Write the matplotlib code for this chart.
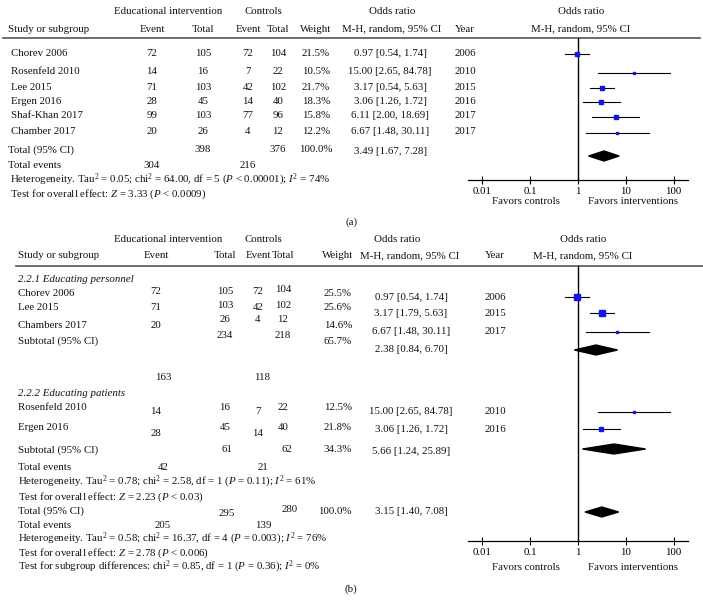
import numpy as np
import matplotlib
matplotlib.use('Agg')
import matplotlib.pyplot as plt
from matplotlib.patches import Polygon

plt.rcParams['font.family'] = ['Liberation Serif', 'DejaVu Serif']
plt.rcParams['mathtext.fontset'] = 'custom'
plt.rcParams['mathtext.rm'] = 'Liberation Serif'
plt.rcParams['mathtext.it'] = 'Liberation Serif:italic'
FS = 7.8

# ---- panel (a) data ----
studies_a = ['Chorev 2006', 'Rosenfeld 2010', 'Lee 2015', 'Ergen 2016', 'Shaf-Khan 2017', 'Chamber 2017']
ev_int_a = [72, 14, 71, 28, 99, 20]
tot_int_a = [105, 16, 103, 45, 103, 26]
ev_ctl_a = [72, 7, 42, 14, 77, 4]
tot_ctl_a = [104, 22, 102, 40, 96, 12]
weight_a = [21.5, 10.5, 21.7, 18.3, 15.8, 12.2]
or_a = [0.97, 15.00, 3.17, 3.06, 6.11, 6.67]
lo_a = [0.54, 2.65, 1.79, 1.26, 2.00, 1.48]     # CI as drawn
hi_a = [1.74, 84.78, 5.63, 7.42, 18.69, 30.11]
or_text_a = ['0.97 [0.54, 1.74]', '15.00 [2.65, 84.78]', '3.17 [0.54, 5.63]',
             '3.06 [1.26, 1.72]', '6.11 [2.00, 18.69]', '6.67 [1.48, 30.11]']
year_a = [2006, 2010, 2015, 2016, 2017, 2017]
total_a = (3.49, 1.67, 7.28)

# ---- panel (b) data ----
studies_b1 = ['Chorev 2006', 'Lee 2015', 'Chambers 2017']
ev_int_b1 = [72, 71, 20]
tot_int_b1 = [105, 103, 26]
ev_ctl_b1 = [72, 42, 4]
tot_ctl_b1 = [104, 102, 12]
weight_b1 = [25.5, 25.6, 14.6]
or_b1 = [0.97, 3.17, 6.67]
lo_b1 = [0.54, 1.79, 1.48]
hi_b1 = [1.74, 5.63, 30.11]
or_text_b1 = ['0.97 [0.54, 1.74]', '3.17 [1.79, 5.63]', '6.67 [1.48, 30.11]']
year_b1 = [2006, 2015, 2017]
sub_b1 = (2.38, 0.84, 6.70)

studies_b2 = ['Rosenfeld 2010', 'Ergen 2016']
ev_int_b2 = [14, 28]
tot_int_b2 = [16, 45]
ev_ctl_b2 = [7, 14]
tot_ctl_b2 = [22, 40]
weight_b2 = [12.5, 21.8]
or_b2 = [15.00, 3.06]
lo_b2 = [2.65, 1.26]
hi_b2 = [84.78, 7.42]
or_text_b2 = ['15.00 [2.65, 84.78]', '3.06 [1.26, 1.72]']
year_b2 = [2010, 2016]
sub_b2 = (5.66, 1.24, 25.89)
total_b = (3.15, 1.40, 7.08)

ticks = [0.01, 0.1, 1, 10, 100]
tick_labels = ['0.01', '0.1', '1', '10', '100']

W, H = 703, 612
fig = plt.figure(figsize=(W / 100, H / 100), dpi=100)
bg = fig.add_axes([0, 0, 1, 1])
bg.set_xlim(0, W)
bg.set_ylim(H, 0)
bg.axis('off')

BLUE = '#1414e6'


def txt(x, y, s, ha='center', **kw):
    bg.text(x, y, s, ha=ha, va='center', fontsize=FS, color='#111111', **kw)


def forest_axes(top, bottom):
    # x pixel 468..688, log scale: OR=1 at 578, ~47.8 px per decade
    ax = fig.add_axes([468 / W, 1 - bottom / H, 220 / W, (bottom - top) / H])
    ax.set_xscale('log')
    ax.set_xlim(0.005, 200)
    ax.set_ylim(bottom, top)
    ax.patch.set_alpha(0)
    for s in ['top', 'right', 'left']:
        ax.spines[s].set_visible(False)
    ax.spines['bottom'].set_linewidth(0.9)
    ax.set_yticks([])
    ax.set_xticks(ticks)
    ax.set_xticklabels(tick_labels, fontsize=FS)
    ax.minorticks_off()
    ax.tick_params(axis='x', direction='inout', length=6, width=0.8, pad=2)
    ax.axvline(1, color='black', lw=1.0)
    return ax


def study(ax, y, o, lo, hi, w):
    ax.plot([lo, hi], [y, y], color='black', lw=0.8)
    ax.plot([o], [y], marker='s', ms=w / 7.0, color=BLUE, mec=BLUE)


def diamond(ax, y, o, lo, hi, h=5):
    ax.add_patch(Polygon([(lo, y), (o, y - h), (hi, y), (o, y + h)],
                         closed=True, color='black'))


# ================= panel (a) =================
txt(168, 11, 'Educational intervention')
txt(263, 11, 'Controls')
txt(392, 11, 'Odds ratio')
txt(581, 11, 'Odds ratio')
hdr_y = 29
txt(8, hdr_y, 'Study or subgroup', ha='left')
for x, s in zip([152, 203, 248, 278, 316, 392, 465, 581],
                ['Event', 'Total', 'Event', 'Total', 'Weight',
                 'M-H, random, 95% CI', 'Year', 'M-H, random, 95% CI']):
    txt(x, hdr_y, s)
bg.plot([3, 700], [38, 38], color='#555555', lw=1.2)

rows_a = [53, 72, 87, 101, 116, 132]
axa = forest_axes(38, 180)
for i, y in enumerate(rows_a):
    txt(11, y, studies_a[i], ha='left')
    txt(152, y, ev_int_a[i])
    txt(203, y, tot_int_a[i])
    txt(248, y, ev_ctl_a[i])
    txt(278, y, tot_ctl_a[i])
    txt(316, y, f'{weight_a[i]}%')
    txt(390, y, or_text_a[i])
    txt(465, y, year_a[i])
    study(axa, y + 1, or_a[i], lo_a[i], hi_a[i], weight_a[i])

txt(8, 150, 'Total (95% CI)', ha='left')
txt(203, 150, sum(tot_int_a))
txt(278, 150, sum(tot_ctl_a))
txt(316, 150, '100.0%')
txt(390, 152, f'{total_a[0]:.2f} [{total_a[1]:.2f}, {total_a[2]:.2f}]')
diamond(axa, 156, *total_a)
txt(8, 165, 'Total events', ha='left')
txt(152, 165, sum(ev_int_a))
txt(248, 165, sum(ev_ctl_a))
txt(10, 180, r'Heterogeneity. Tau$^2$ = 0.05; chi$^2$ = 64.00, df = 5 ($P$ < 0.00001); $I^2$ = 74%', ha='left')
txt(10, 194, r'Test for overall effect: $Z$ = 3.33 ($P$ < 0.0009)', ha='left')
txt(526, 201, 'Favors controls')
txt(633, 201, 'Favors interventions')
txt(351, 222, '(a)')

# ================= panel (b) =================
txt(168, 240, 'Educational intervention')
txt(263, 240, 'Controls')
txt(397, 240, 'Odds ratio')
txt(583, 240, 'Odds ratio')
hdr_y = 256
txt(18, hdr_y, 'Study or subgroup', ha='left')
for x, s in zip([156, 225, 258, 283, 338, 410, 495, 583],
                ['Event', 'Total', 'Event', 'Total', 'Weight',
                 'M-H, random, 95% CI', 'Year', 'M-H, random, 95% CI']):
    txt(x, hdr_y, s)
bg.plot([16, 703], [266, 266], color='#555555', lw=1.2)

axb = forest_axes(266, 541)
# per-cell vertical jitter of the original layout (name, ev, tot, ev, tot, weight)
dy_b1 = [[0, -2, -2, -2, -3, 1], [0, 0, -1, 0, -2, 0], [0, 1, -6, -5, -6, 1]]
dy_b2 = [[0, 4, 0, 4, 0, 0], [0, 5, 0, 5, 0, 0]]


def group_rows(rows, shift, names, ev_i, tot_i, ev_c, tot_c, wt, ors, los, his, txts, yrs, dys):
    for i, y in enumerate(rows):
        d = dys[i]
        txt(18, y + d[0], names[i], ha='left')
        txt(156, y + d[1], ev_i[i])
        txt(225, y + d[2], tot_i[i])
        txt(258, y + d[3], ev_c[i])
        txt(283, y + d[4], tot_c[i])
        txt(338, y + d[5], f'{wt[i]}%')
        txt(411, y + shift[i], txts[i])
        txt(495, y + shift[i], yrs[i])
        study(axb, y + shift[i], ors[i], los[i], his[i], wt[i])


txt(18, 279, '2.2.1 Educating personnel', ha='left', fontstyle='italic')
group_rows([293, 307, 325], [4, 6, 7], studies_b1, ev_int_b1, tot_int_b1, ev_ctl_b1, tot_ctl_b1,
           weight_b1, or_b1, lo_b1, hi_b1, or_text_b1, year_b1, dy_b1)
txt(18, 341, 'Subtotal (95% CI)', ha='left')
txt(225, 336, sum(tot_int_b1))
txt(283, 336, sum(tot_ctl_b1))
txt(338, 341, '65.7%')
txt(411, 350, f'{sub_b1[0]:.2f} [{sub_b1[1]:.2f}, {sub_b1[2]:.2f}]')
diamond(axb, 350, *sub_b1)
txt(163, 377, sum(ev_int_b1))
txt(262, 377, sum(ev_ctl_b1))

txt(18, 394, '2.2.2 Educating patients', ha='left', fontstyle='italic')
group_rows([408, 428], [4, 1], studies_b2, ev_int_b2, tot_int_b2, ev_ctl_b2, tot_ctl_b2,
           weight_b2, or_b2, lo_b2, hi_b2, or_text_b2, year_b2, dy_b2)
txt(18, 450, 'Subtotal (95% CI)', ha='left')
txt(227, 449, sum(tot_int_b2))
txt(287, 449, sum(tot_ctl_b2))
txt(338, 450, '34.3%')
txt(411, 451, f'{sub_b2[0]:.2f} [{sub_b2[1]:.2f}, {sub_b2[2]:.2f}]')
diamond(axb, 449, *sub_b2)
txt(18, 467, 'Total events', ha='left')
txt(163, 467, sum(ev_int_b2))
txt(263, 468, sum(ev_ctl_b2))
txt(18, 482, r'Heterogeneity. Tau$^2$ = 0.78; chi$^2$ = 2.58, df = 1 ($P$ = 0.11); $I^2$ = 61%', ha='left')
txt(18, 497, r'Test for overall effect: $Z$ = 2.23 ($P$ < 0.03)', ha='left')

txt(18, 511, 'Total (95% CI)', ha='left')
txt(227, 513, sum(tot_int_b1) + sum(tot_int_b2))
txt(290, 509, sum(tot_ctl_b1) + sum(tot_ctl_b2))
txt(335, 511, '100.0%')
txt(411, 511, f'{total_b[0]:.2f} [{total_b[1]:.2f}, {total_b[2]:.2f}]')
diamond(axb, 512, *total_b)
txt(18, 525, 'Total events', ha='left')
txt(163, 526, sum(ev_int_b1) + sum(ev_int_b2))
txt(263, 526, sum(ev_ctl_b1) + sum(ev_ctl_b2))
txt(18, 539, r'Heterogeneity. Tau$^2$ = 0.58; chi$^2$ = 16.37, df = 4 ($P$ = 0.003); $I^2$ = 76%', ha='left')
txt(18, 553, r'Test for overall effect: $Z$ = 2.78 ($P$ < 0.006)', ha='left')
txt(18, 567, r'Test for subgroup differences: chi$^2$ = 0.85, df = 1 ($P$ = 0.36); $I^2$ = 0%', ha='left')
txt(526, 568, 'Favors controls')
txt(633, 568, 'Favors interventions')
txt(351, 589, '(b)')

fig.savefig('out.png', dpi=100)
